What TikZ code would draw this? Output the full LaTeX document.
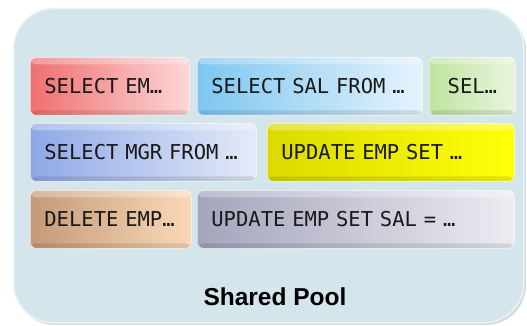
\documentclass[tikz,border=0pt]{standalone}
\usepackage{fontspec}
\setmainfont{Liberation Sans}
\newfontfamily\sqlfont{DejaVu Sans Mono}
\usetikzlibrary{calc}

\definecolor{poolfill}{HTML}{D4E6EC}
\definecolor{poolrim}{HTML}{E9F2F5}
\definecolor{poolshadow}{HTML}{B9C4C8}

\tikzset{
  query/.style 2 args={
    rounded corners=6pt, anchor=north west,
    minimum height=58pt, inner xsep=14pt, inner ysep=0pt,
    align=left, text width=#2-28pt, minimum width=#2,
    font=\sqlfont\fontsize{20.5}{20.5}\selectfont, text=black!90,
    draw=white, draw opacity=0.55, line width=0.8pt,
    shading=axis, shading angle=90,
    #1,
    path picture={
      \fill[white, opacity=0.30]
        (path picture bounding box.north west) rectangle
        ($(path picture bounding box.north east)+(0,-7pt)$);
      \fill[black, opacity=0.10]
        (path picture bounding box.south west) rectangle
        ($(path picture bounding box.south east)+(0,5pt)$);
    }
  },
  qred/.style={left color={rgb,255:red,240;green,112;blue,112}, right color={rgb,255:red,253;green,214;blue,214}},
  qblue/.style={left color={rgb,255:red,126;green,198;blue,240}, right color={rgb,255:red,230;green,243;blue,252}},
  qgreen/.style={left color={rgb,255:red,191;green,227;blue,160}, right color={rgb,255:red,233;green,245;blue,221}},
  qlav/.style={left color={rgb,255:red,143;green,168;blue,230}, right color={rgb,255:red,228;green,234;blue,248}},
  qyellow/.style={left color={rgb,255:red,218;green,218;blue,0}, right color={rgb,255:red,255;green,255;blue,8}},
  qbrown/.style={left color={rgb,255:red,196;green,154;blue,120}, right color={rgb,255:red,250;green,217;blue,184}},
  qgray/.style={left color={rgb,255:red,164;green,164;blue,188}, right color={rgb,255:red,236;green,236;blue,242}},
  title/.style={font=\bfseries\fontsize{24.5}{24.5}\selectfont, text=black, anchor=base, inner sep=0pt}
}

\begin{document}
\begin{tikzpicture}[x=1pt, y=-1pt]
  \useasboundingbox[fill=white] (0,0) rectangle (527,326);

  % the pool container, with a soft shadow towards the lower right
  \fill[poolshadow, opacity=0.6, rounded corners=40pt] (15,11) rectangle (526,325);
  \node[draw=poolrim, line width=1.5pt, fill=poolfill, rounded corners=40pt,
        anchor=north west, minimum width=510pt, minimum height=314pt, inner sep=0pt]
        (pool) at (13,8) {};

  % cached statements
  \node[query={qred}{159pt}]    (q1) at (30,57)  {SELECT EM…};
  \node[query={qblue}{225pt}]   (q2) at (197,57) {SELECT SAL FROM …};
  \node[query={qgreen,align=center}{86pt}] (q3) at (429,57) {SEL…};

  \node[query={qlav}{226pt}]    (q4) at (30,123) {SELECT MGR FROM …};
  \node[query={qyellow}{247pt}] (q5) at (267,123) {UPDATE EMP SET …};

  \node[query={qbrown}{161pt}]  (q6) at (30,190) {DELETE EMP…};
  \node[query={qgray}{317pt}]   (q7) at (197,190) {UPDATE EMP SET SAL = …};

  \node[title] (label) at (275,305) {Shared Pool};
\end{tikzpicture}
\end{document}
